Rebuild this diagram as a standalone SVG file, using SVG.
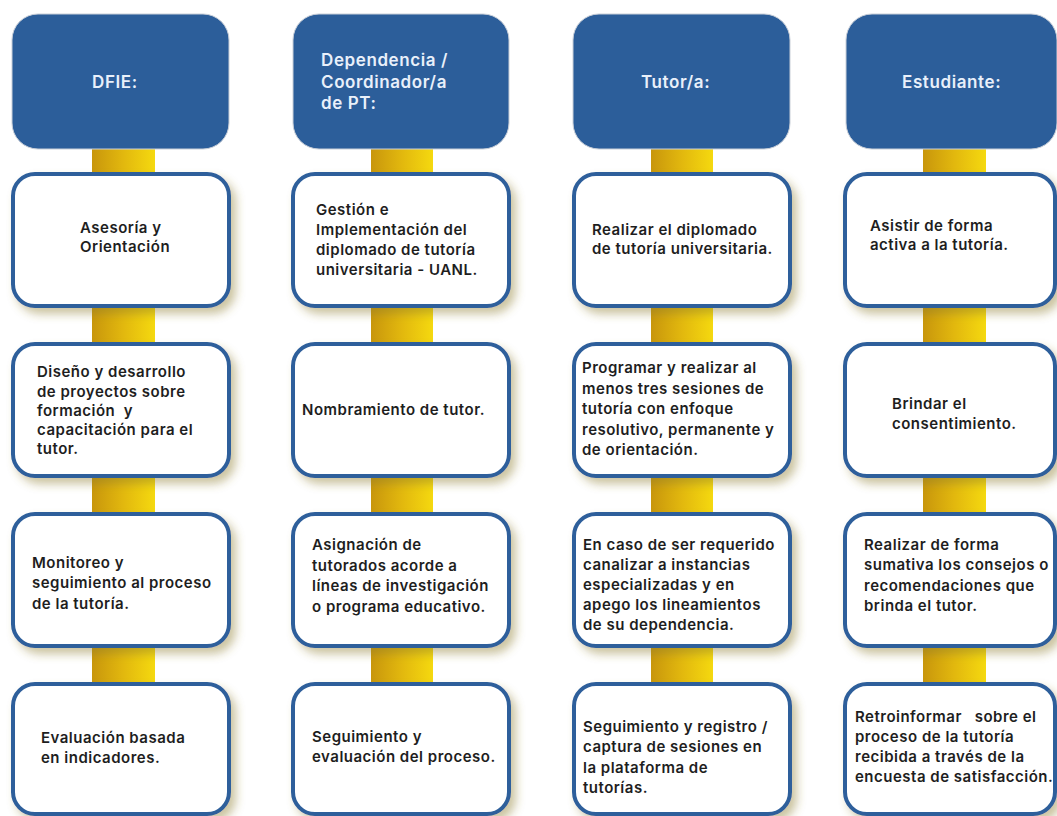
<svg xmlns="http://www.w3.org/2000/svg" width="1057" height="816" viewBox="0 0 1057 816">
<defs>
<linearGradient id="gold" x1="0" y1="0" x2="1" y2="0">
<stop offset="0" stop-color="#c8960c"/>
<stop offset="0.5" stop-color="#e2b80e"/>
<stop offset="1" stop-color="#f5d90f"/>
</linearGradient>
<filter id="sh" x="-20%" y="-20%" width="150%" height="150%">
<feDropShadow dx="5" dy="6" stdDeviation="5" flood-color="#8c7a2a" flood-opacity="0.45"/>
</filter>
<style>
.hd{fill:#2c5e9a;stroke:#c9cfd8;stroke-width:1}
.bx{fill:#ffffff;stroke:#2d5f9b;stroke-width:4;filter:url(#sh)}
.ht{font-family:Inter,"Open Sans","Liberation Sans",sans-serif;font-weight:600;font-size:17px;letter-spacing:0.6px;fill:#e9f0fa}
.bt{font-family:Inter,"Open Sans","Liberation Sans",sans-serif;font-weight:600;font-size:15px;letter-spacing:0.5px;fill:#1e1e1e;white-space:pre}
.bar{fill:url(#gold)}
</style>
</defs>
<rect width="1057" height="816" fill="#ffffff"/>

<g id="connectors">
<rect class="bar" x="92" y="145" width="63" height="32"/>
<rect class="bar" x="92" y="304" width="63" height="42"/>
<rect class="bar" x="92" y="474" width="63" height="42"/>
<rect class="bar" x="92" y="644" width="63" height="42"/>
<rect class="bar" x="371" y="145" width="62" height="32"/>
<rect class="bar" x="371" y="304" width="62" height="42"/>
<rect class="bar" x="371" y="474" width="62" height="42"/>
<rect class="bar" x="371" y="644" width="62" height="42"/>
<rect class="bar" x="651" y="145" width="62" height="32"/>
<rect class="bar" x="651" y="304" width="62" height="42"/>
<rect class="bar" x="651" y="474" width="62" height="42"/>
<rect class="bar" x="651" y="644" width="62" height="42"/>
<rect class="bar" x="923" y="145" width="63" height="32"/>
<rect class="bar" x="923" y="304" width="63" height="42"/>
<rect class="bar" x="923" y="474" width="63" height="42"/>
<rect class="bar" x="923" y="644" width="63" height="42"/>
</g>

<g id="h1"><rect class="hd" x="12" y="14" width="217" height="135" rx="26"/><text class="ht" x="92" y="88">DFIE:</text></g>
<g id="h2"><rect class="hd" x="293" y="14" width="216" height="135" rx="26"/><text class="ht"><tspan x="321" y="66">Dependencia /</tspan><tspan x="321" y="88">Coordinador/a</tspan><tspan x="321" y="109">de PT:</tspan></text></g>
<g id="h3"><rect class="hd" x="573" y="14" width="217" height="135" rx="26"/><text class="ht" x="641" y="88">Tutor/a:</text></g>
<g id="h4"><rect class="hd" x="846" y="14" width="211" height="135" rx="26"/><text class="ht" x="902" y="88">Estudiante:</text></g>

<g id="c1r1"><rect class="bx" x="13" y="174" width="216" height="132" rx="22"/><text class="bt"><tspan x="80" y="233">Asesoría y</tspan><tspan x="80" y="252">Orientación</tspan></text></g>
<g id="c1r2"><rect class="bx" x="13" y="344" width="216" height="132" rx="22"/><text class="bt"><tspan x="37" y="377">Diseño y desarrollo</tspan><tspan x="37" y="397">de proyectos sobre</tspan><tspan x="37" y="416">formación  y</tspan><tspan x="37" y="435">capacitación para el</tspan><tspan x="37" y="454">tutor.</tspan></text></g>
<g id="c1r3"><rect class="bx" x="13" y="514" width="216" height="132" rx="22"/><text class="bt"><tspan x="32" y="568">Monitoreo y</tspan><tspan x="32" y="588">seguimiento al proceso</tspan><tspan x="32" y="609">de la tutoría.</tspan></text></g>
<g id="c1r4"><rect class="bx" x="13" y="684" width="216" height="130" rx="22"/><text class="bt"><tspan x="41" y="743">Evaluación basada</tspan><tspan x="41" y="763">en indicadores.</tspan></text></g>

<g id="c2r1"><rect class="bx" x="293" y="174" width="216" height="132" rx="22"/><text class="bt"><tspan x="316" y="215">Gestión e</tspan><tspan x="316" y="235">Implementación del</tspan><tspan x="316" y="255">diplomado de tutoría</tspan><tspan x="316" y="275">universitaria - UANL.</tspan></text></g>
<g id="c2r2"><rect class="bx" x="293" y="344" width="216" height="132" rx="22"/><text class="bt" x="302" y="415">Nombramiento de tutor.</text></g>
<g id="c2r3"><rect class="bx" x="293" y="514" width="216" height="132" rx="22"/><text class="bt"><tspan x="312" y="550">Asignación de</tspan><tspan x="312" y="571">tutorados acorde a</tspan><tspan x="312" y="591">líneas de investigación</tspan><tspan x="312" y="612">o programa educativo.</tspan></text></g>
<g id="c2r4"><rect class="bx" x="293" y="684" width="216" height="130" rx="22"/><text class="bt"><tspan x="312" y="742">Seguimiento y</tspan><tspan x="312" y="762">evaluación del proceso.</tspan></text></g>

<g id="c3r1"><rect class="bx" x="574" y="174" width="216" height="132" rx="22"/><text class="bt"><tspan x="592" y="235">Realizar el diplomado</tspan><tspan x="592" y="254">de tutoría universitaria.</tspan></text></g>
<g id="c3r2"><rect class="bx" x="574" y="344" width="216" height="132" rx="22"/><text class="bt"><tspan x="582" y="373">Programar y realizar al</tspan><tspan x="582" y="394">menos tres sesiones de</tspan><tspan x="582" y="414">tutoría con enfoque</tspan><tspan x="582" y="435">resolutivo, permanente y</tspan><tspan x="582" y="455">de orientación.</tspan></text></g>
<g id="c3r3"><rect class="bx" x="574" y="514" width="216" height="132" rx="22"/><text class="bt"><tspan x="583" y="550">En caso de ser requerido</tspan><tspan x="583" y="570">canalizar a instancias</tspan><tspan x="583" y="590">especializadas y en</tspan><tspan x="583" y="610">apego los lineamientos</tspan><tspan x="583" y="630">de su dependencia.</tspan></text></g>
<g id="c3r4"><rect class="bx" x="574" y="684" width="216" height="130" rx="22"/><text class="bt"><tspan x="583" y="732">Seguimiento y registro /</tspan><tspan x="583" y="752">captura de sesiones en</tspan><tspan x="583" y="773">la plataforma de</tspan><tspan x="583" y="793">tutorías.</tspan></text></g>

<g id="c4r1"><rect class="bx" x="845" y="174" width="210" height="132" rx="22"/><text class="bt"><tspan x="870" y="231">Asistir de forma</tspan><tspan x="870" y="250">activa a la tutoría.</tspan></text></g>
<g id="c4r2"><rect class="bx" x="845" y="344" width="210" height="132" rx="22"/><text class="bt"><tspan x="892" y="409">Brindar el</tspan><tspan x="892" y="429">consentimiento.</tspan></text></g>
<g id="c4r3"><rect class="bx" x="845" y="514" width="210" height="132" rx="22"/><text class="bt"><tspan x="864" y="550">Realizar de forma</tspan><tspan x="864" y="570">sumativa los consejos o</tspan><tspan x="864" y="591">recomendaciones que</tspan><tspan x="864" y="611">brinda el tutor.</tspan></text></g>
<g id="c4r4"><rect class="bx" x="845" y="684" width="210" height="130" rx="22"/><text class="bt"><tspan x="855" y="722">Retroinformar   sobre el</tspan><tspan x="855" y="742">proceso de la tutoría</tspan><tspan x="855" y="762">recibida a través de la</tspan><tspan x="855" y="782">encuesta de satisfacción.</tspan></text></g>
</svg>
